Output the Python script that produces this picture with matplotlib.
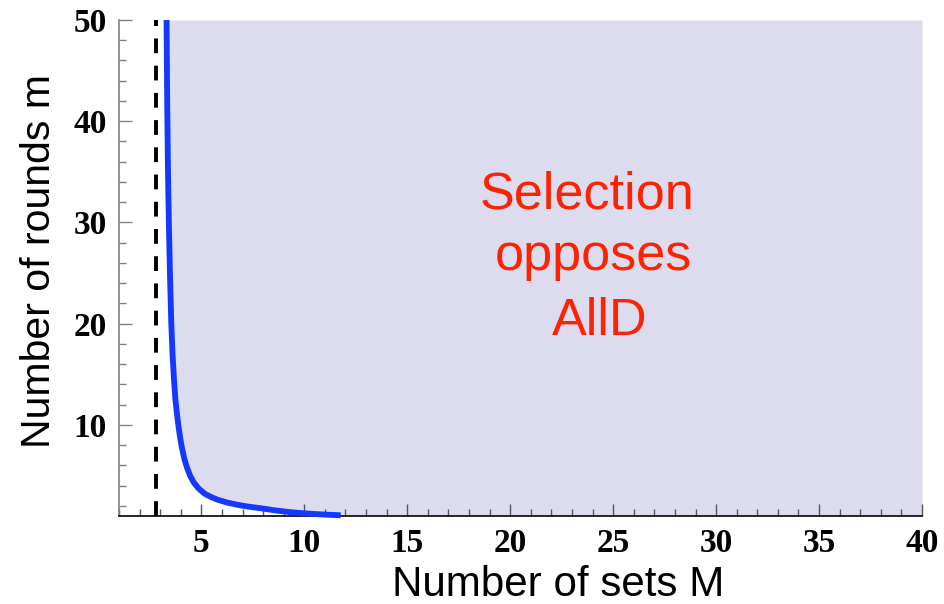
import matplotlib
matplotlib.use("Agg")
import matplotlib.pyplot as plt
from matplotlib.ticker import MultipleLocator

# Data
curve_M = [3.31, 3.34, 3.38, 3.43, 3.48, 3.54, 3.60, 3.67, 3.74, 3.82, 3.90, 3.98,
           4.07, 4.18, 4.30, 4.45, 4.62, 4.85, 5.16, 5.50, 5.80, 6.25, 6.77, 7.30,
           7.90, 8.60, 9.30, 10.10, 10.90, 11.77]
curve_m = [50.0, 42.0, 35.0, 29.0, 24.5, 20.0, 17.0, 14.5, 12.5, 11.0, 9.7, 8.6,
           7.6, 6.6, 5.8, 5.0, 4.35, 3.75, 3.2, 2.85, 2.6, 2.33, 2.1, 1.92,
           1.76, 1.55, 1.38, 1.25, 1.15, 1.07]
dashed_M = 2.78
x_range = (1, 40)
y_range = (1, 50)
x_major = [5, 10, 15, 20, 25, 30, 35, 40]
y_major = [10, 20, 30, 40, 50]
label_lines = ["Selection", "opposes", "AllD"]

fig = plt.figure(figsize=(9.45, 6.04), dpi=100)
ax = fig.add_axes([119/945, (604-516)/604, (922-119)/945, (516-20)/604])

ax.fill_betweenx(curve_m, curve_M, x_range[1], color="#DCDCEE", lw=0, zorder=1)
ax.plot(curve_M, curve_m, color="#1438FF", lw=4.2, solid_capstyle="butt",
        solid_joinstyle="round", zorder=3, clip_on=False)
ax.plot([dashed_M, dashed_M], list(y_range), color="black", lw=2.8,
        dashes=(3.8, 3.2), zorder=2)

# three centred lines, as in the reference (slightly staggered)
line_x = [23.75, 24.05, 24.35]
line_y = [31.4, 25.3, 18.9]
for txt, lx, ly in zip(label_lines, line_x, line_y):
    ax.text(lx, ly, txt, color="#FF2200", fontsize=37.5,
            family="Liberation Sans", ha="center", va="baseline", zorder=4)

ax.set_xlim(*x_range)
ax.set_ylim(*y_range)
ax.set_xticks(x_major)
ax.set_yticks(y_major)
ax.xaxis.set_minor_locator(MultipleLocator(1))
ax.yaxis.set_minor_locator(MultipleLocator(2))

for s in ("top", "right"):
    ax.spines[s].set_visible(False)
ax.spines["bottom"].set_color("black")
ax.spines["bottom"].set_linewidth(1.2)
ax.spines["left"].set_color("#808080")
ax.spines["left"].set_linewidth(1.2)

ax.tick_params(axis="both", which="major", direction="in", length=9, width=1.0,
               pad=9)
ax.tick_params(axis="both", which="minor", direction="in", length=5, width=1.0)
ax.tick_params(axis="x", which="both", colors="#555555", labelcolor="black")
ax.tick_params(axis="y", which="both", colors="#808080", labelcolor="black")

for lab in ax.get_xticklabels() + ax.get_yticklabels():
    lab.set_family("Liberation Serif")
    lab.set_fontweight("bold")
    lab.set_fontsize(24)

ax.set_xlabel("Number of sets M", family="Liberation Sans", fontsize=30.3)
ax.xaxis.label.set_verticalalignment("baseline")
ax.xaxis.set_label_coords(0.5467, -0.1613)
ax.set_ylabel("Number of rounds m", family="Liberation Sans", fontsize=29.5)
ax.yaxis.label.set_verticalalignment("baseline")
ax.yaxis.set_label_coords(-0.0859, 0.514)

fig.savefig("out.png", dpi=100)
